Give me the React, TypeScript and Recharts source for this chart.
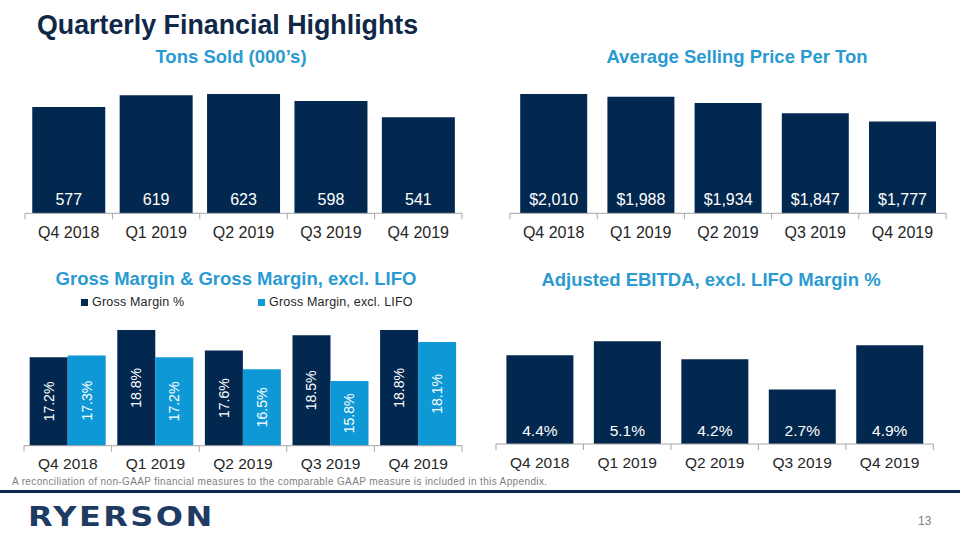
import React from "react";
import { BarChart, Bar, XAxis, YAxis, LabelList } from "recharts";

const quarters = ["Q4 2018", "Q1 2019", "Q2 2019", "Q3 2019", "Q4 2019"];
const tonsSold = [577, 619, 623, 598, 541];
const avgPrice = [2010, 1988, 1934, 1847, 1777];
const grossMargin = [17.2, 18.8, 17.6, 18.5, 18.8];
const grossMarginExLifo = [17.3, 17.2, 16.5, 15.8, 18.1];
const ebitdaMargin = [4.4, 5.1, 4.2, 2.7, 4.9];

const NAVY = "#03284F";
const LIGHT = "#0E98D5";
const SUB = "#2B9AD2";
const AXIS = "#A6A6A6";
const FONT = "'Liberation Sans', Arial, sans-serif";
const AXIS_H = 30;

const rows = quarters.map((q, i) => ({
  quarter: q,
  tons: tonsSold[i],
  price: avgPrice[i],
  gm: grossMargin[i],
  gmx: grossMarginExLifo[i],
  ebitda: ebitdaMargin[i],
}));

// plot box in page coords -> chart margins
const marginsFor = (
  box: { left: number; top: number; width: number; height: number },
  plot: { x0: number; x1: number; y0: number; y1: number }
) => ({
  left: plot.x0 - box.left,
  right: box.left + box.width - plot.x1,
  top: plot.y0 - box.top,
  bottom: box.top + box.height - plot.y1 - AXIS_H,
});

const makeTick = (band: number, count: number, fontSize: number, dy: number) => (props: any) => {
  const { x, y, payload, index } = props;
  const l = x - band / 2;
  const r = x + band / 2;
  return (
    <g>
      <line x1={l} x2={l} y1={y} y2={y + 6} stroke={AXIS} />
      {index === count - 1 && <line x1={r} x2={r} y1={y} y2={y + 6} stroke={AXIS} />}
      <text
        x={x}
        y={y + dy}
        textAnchor="middle"
        dominantBaseline="central"
        fontSize={fontSize}
        fontFamily={FONT}
        fill="#262626"
      >
        {payload.value}
      </text>
    </g>
  );
};

const bottomLabel = (fmt: (v: number) => string, fontSize: number) => (props: any) => {
  const vb = props.viewBox || props;
  const x = vb.x;
  const w = vb.width;
  const y = Math.min(vb.y, vb.y + vb.height);
  const h = Math.abs(vb.height);
  return (
    <text
      x={x + w / 2}
      y={y + h - 14}
      textAnchor="middle"
      dominantBaseline="central"
      fontSize={fontSize}
      fontFamily={FONT}
      fill="#ffffff"
    >
      {fmt(Number(props.value))}
    </text>
  );
};

const rotatedLabel = (props: any) => {
  const vb = props.viewBox || props;
  const cx = vb.x + vb.width / 2;
  const cy = Math.min(vb.y, vb.y + vb.height) + Math.abs(vb.height) / 2;
  return (
    <text
      x={cx}
      y={cy}
      transform={`rotate(-90 ${cx} ${cy})`}
      textAnchor="middle"
      dominantBaseline="central"
      fontSize={14}
      fontFamily={FONT}
      fill="#ffffff"
    >
      {Number(props.value).toFixed(1)}%
    </text>
  );
};

type PanelProps = {
  box: { left: number; top: number; width: number; height: number };
  plot: { x0: number; x1: number; y0: number; y1: number };
  domain: [number, number];
  gap: string;
  tickFont: number;
  tickDy: number;
  children: React.ReactNode;
};

const Panel = ({ box, plot, domain, gap, tickFont, tickDy, children }: PanelProps) => {
  const band = (plot.x1 - plot.x0) / quarters.length;
  return (
    <div style={{ position: "absolute", left: box.left, top: box.top }}>
      <BarChart
        width={box.width}
        height={box.height}
        data={rows}
        margin={marginsFor(box, plot)}
        barCategoryGap={gap}
        barGap={0}
      >
        <XAxis
          dataKey="quarter"
          height={AXIS_H}
          interval={0}
          axisLine={{ stroke: AXIS }}
          tickLine={false}
          tickSize={0}
          tickMargin={0}
          tick={makeTick(band, quarters.length, tickFont, tickDy)}
        />
        <YAxis type="number" domain={domain} hide />
        {children}
      </BarChart>
    </div>
  );
};

const subtitle = (text: string, cx: number, cy: number) => (
  <div
    style={{
      position: "absolute",
      left: cx - 250,
      width: 500,
      top: cy - 9,
      lineHeight: "18px",
      fontSize: 18.5,
      fontWeight: "bold",
      color: SUB,
      textAlign: "center",
      whiteSpace: "nowrap",
    }}
  >
    {text}
  </div>
);

const App = () => {
  return (
    <div
      style={{
        position: "absolute",
        left: 0,
        top: 0,
        width: 960,
        height: 540,
        background: "#ffffff",
        fontFamily: FONT,
        overflow: "hidden",
      }}
    >
      <div
        style={{
          position: "absolute",
          left: 37,
          top: 12,
          fontSize: 26.8,
          lineHeight: "26px",
          fontWeight: "bold",
          color: "#0F2847",
          whiteSpace: "nowrap",
        }}
      >
        Quarterly Financial Highlights
      </div>

      {subtitle("Tons Sold (000\u2019s)", 231, 57)}
      {subtitle("Average Selling Price Per Ton", 737, 57)}
      {subtitle("Gross Margin & Gross Margin, excl. LIFO", 236, 279)}
      {subtitle("Adjusted EBITDA, excl. LIFO Margin %", 711, 280)}

      <Panel
        box={{ left: 0, top: 60, width: 480, height: 190 }}
        plot={{ x0: 25, x1: 462, y0: 72.3, y1: 213.3 }}
        domain={[200, 700]}
        gap="8.3%"
        tickFont={16}
        tickDy={19.5}
      >
        <Bar dataKey="tons" fill={NAVY} isAnimationActive={false}>
          <LabelList dataKey="tons" content={bottomLabel((v) => String(v), 16)} />
        </Bar>
      </Panel>

      <Panel
        box={{ left: 490, top: 60, width: 470, height: 190 }}
        plot={{ x0: 510, x1: 946, y0: 71.6, y1: 213.3 }}
        domain={[1000, 2200]}
        gap="11.7%"
        tickFont={16}
        tickDy={19.5}
      >
        <Bar dataKey="price" fill={NAVY} isAnimationActive={false}>
          <LabelList
            dataKey="price"
            content={bottomLabel((v) => "$" + v.toLocaleString("en-US"), 16)}
          />
        </Bar>
      </Panel>

      <Panel
        box={{ left: 0, top: 290, width: 480, height: 190 }}
        plot={{ x0: 24, x1: 462, y0: 309.7, y1: 445.7 }}
        domain={[12, 20]}
        gap="6.5%"
        tickFont={15.5}
        tickDy={18}
      >
        <Bar dataKey="gm" name="Gross Margin %" fill={NAVY} isAnimationActive={false}>
          <LabelList dataKey="gm" content={rotatedLabel} />
        </Bar>
        <Bar dataKey="gmx" name="Gross Margin, excl. LIFO" fill={LIGHT} isAnimationActive={false}>
          <LabelList dataKey="gmx" content={rotatedLabel} />
        </Bar>
      </Panel>

      <Panel
        box={{ left: 480, top: 290, width: 480, height: 190 }}
        plot={{ x0: 496, x1: 933.3, y0: 323, y1: 444 }}
        domain={[0, 6]}
        gap="11.9%"
        tickFont={15.5}
        tickDy={18.5}
      >
        <Bar dataKey="ebitda" fill={NAVY} isAnimationActive={false}>
          <LabelList dataKey="ebitda" content={bottomLabel((v) => v.toFixed(1) + "%", 15.5)} />
        </Bar>
      </Panel>

      {/* legend for gross margin chart */}
      <div
        style={{
          position: "absolute",
          top: 295,
          left: 81,
          fontSize: 12.5,
          lineHeight: "14px",
          letterSpacing: 0.2,
          color: "#262626",
          whiteSpace: "nowrap",
          display: "flex",
        }}
      >
        <div style={{ display: "flex", alignItems: "center", width: 177 }}>
          <span style={{ width: 7, height: 7, background: NAVY, marginRight: 4 }} />
          Gross Margin %
        </div>
        <div style={{ display: "flex", alignItems: "center" }}>
          <span style={{ width: 7, height: 7, background: LIGHT, marginRight: 4 }} />
          Gross Margin, excl. LIFO
        </div>
      </div>

      <div
        style={{
          position: "absolute",
          left: 12,
          top: 477,
          fontSize: 10,
          lineHeight: "10px",
          letterSpacing: 0.37,
          color: "#808080",
          whiteSpace: "nowrap",
        }}
      >
        A reconciliation of non-GAAP financial measures to the comparable GAAP measure is included in this Appendix.
      </div>

      <div
        style={{
          position: "absolute",
          left: 0,
          top: 490,
          width: 960,
          height: 3,
          background: "#0F2A4F",
        }}
      />

      <div
        style={{
          position: "absolute",
          left: 28,
          top: 504,
          fontFamily: "'DejaVu Sans', sans-serif",
          fontWeight: "bold",
          fontSize: 26,
          lineHeight: "26px",
          letterSpacing: 2,
          color: "#1E3B63",
          whiteSpace: "nowrap",
          transform: "scaleX(1.23)",
          transformOrigin: "0 0",
        }}
      >
        RYERSON
      </div>

      <div
        style={{
          position: "absolute",
          left: 918,
          top: 515,
          fontSize: 12,
          lineHeight: "12px",
          color: "#808080",
        }}
      >
        13
      </div>
    </div>
  );
};

export default App;
